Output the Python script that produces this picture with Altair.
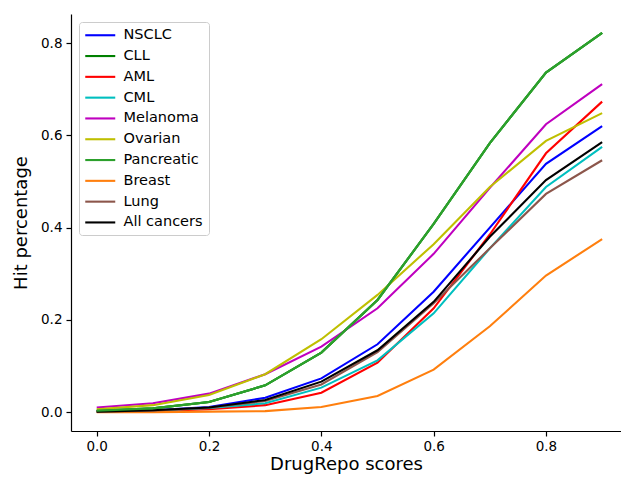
import altair as alt
import pandas as pd

scores = [0.0, 0.1, 0.2, 0.3, 0.4, 0.5, 0.6, 0.7, 0.8, 0.9]

series_names = ["NSCLC", "CLL", "AML", "CML", "Melanoma", "Ovarian",
                "Pancreatic", "Breast", "Lung", "All cancers"]
series_colors = ["#0000ff", "#008000", "#ff0000", "#00bfbf", "#bf00bf",
                 "#bfbf00", "#2ca02c", "#ff7f0e", "#8c564b", "#000000"]

nsclc = [0.002, 0.004, 0.011, 0.031, 0.073, 0.147, 0.261, 0.400, 0.538, 0.620]
cll = [0.003, 0.008, 0.022, 0.058, 0.129, 0.243, 0.408, 0.583, 0.736, 0.822]
aml = [0.001, 0.002, 0.006, 0.015, 0.042, 0.107, 0.225, 0.385, 0.561, 0.673]
cml = [0.001, 0.003, 0.009, 0.019, 0.053, 0.112, 0.214, 0.355, 0.488, 0.575]
melanoma = [0.010, 0.019, 0.040, 0.082, 0.142, 0.225, 0.343, 0.486, 0.624, 0.711]
ovarian = [0.006, 0.015, 0.037, 0.082, 0.158, 0.254, 0.364, 0.488, 0.588, 0.648]
pancreatic = [0.003, 0.008, 0.022, 0.058, 0.129, 0.243, 0.408, 0.583, 0.736, 0.822]
breast = [0.000, 0.000, 0.001, 0.002, 0.011, 0.035, 0.092, 0.186, 0.296, 0.375]
lung = [0.001, 0.003, 0.010, 0.024, 0.060, 0.130, 0.236, 0.355, 0.473, 0.546]
all_cancers = [0.001, 0.004, 0.010, 0.026, 0.066, 0.134, 0.239, 0.380, 0.503, 0.585]

series_values = [nsclc, cll, aml, cml, melanoma, ovarian, pancreatic,
                 breast, lung, all_cancers]

rows = []
for name, vals in zip(series_names, series_values):
    for s, v in zip(scores, vals):
        rows.append({"series": name, "score": s, "hit": v})
df = pd.DataFrame(rows)

font = "DejaVu Sans"

x_enc = alt.X("score:Q",
              scale=alt.Scale(domain=[-0.0458, 0.9336], nice=False, zero=False),
              axis=alt.Axis(title="DrugRepo scores", values=[0.0, 0.2, 0.4, 0.6, 0.8],
                            format=".1f", grid=False, tickSize=5, tickColor="black",
                            domainColor="black", labelColor="black", titleColor="black",
                            labelFontSize=13.5, titleFontSize=18, labelFont=font,
                            titleFont=font, titleFontWeight="normal", labelPadding=3,
                            titlePadding=3))
y_enc = alt.Y("hit:Q",
              scale=alt.Scale(domain=[-0.041, 0.863], nice=False, zero=False),
              axis=alt.Axis(title="Hit percentage", values=[0.0, 0.2, 0.4, 0.6, 0.8],
                            format=".1f", grid=False, tickSize=5, tickColor="black",
                            domainColor="black", labelColor="black", titleColor="black",
                            labelFontSize=13.5, titleFontSize=18, labelFont=font,
                            titleFont=font, titleFontWeight="normal", labelPadding=4,
                            titlePadding=10))
color_enc = alt.Color("series:N",
                      scale=alt.Scale(domain=series_names, range=series_colors),
                      legend=alt.Legend(title=None, orient="none", legendX=8, legendY=8,
                                        symbolType="M-3,0H3", symbolStrokeWidth=2.1,
                                        symbolSize=100, symbolOffset=8,
                                        labelFontSize=14.5, labelFont=font,
                                        labelColor="black", fillColor="white",
                                        strokeColor="#cccccc", cornerRadius=3,
                                        padding=6, rowPadding=5.8, labelOffset=16,
                                        offset=0))

base = alt.Chart(df).mark_line(strokeWidth=2.1, clip=True).encode(
    x=x_enc, y=y_enc, color=color_enc)
top = base.transform_filter(alt.datum.series == "Pancreatic")

chart = alt.layer(base, top).properties(
    width=550, height=417,
    autosize=alt.AutoSizeParams(type="none"),
    padding={"left": 71, "top": 14, "right": 0, "bottom": 46},
).configure_view(stroke=None).configure_axis(domainWidth=1.2, tickWidth=1.2)

chart.save("out.html", embed_options={"renderer": "svg", "actions": False})
